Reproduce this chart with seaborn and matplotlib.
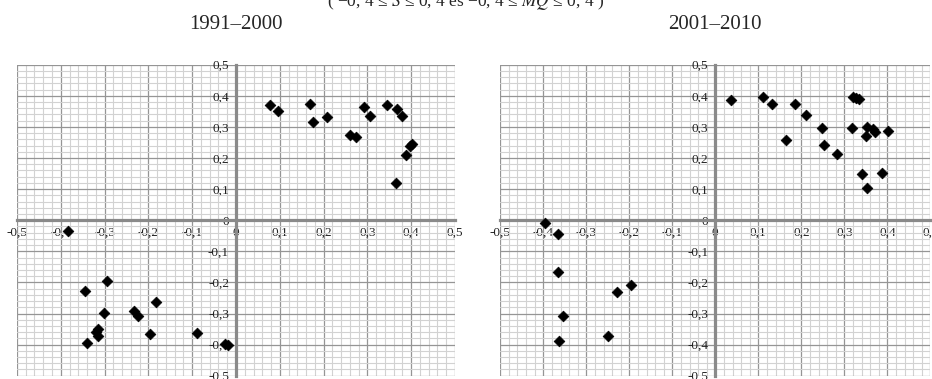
import matplotlib
matplotlib.use("Agg")
import matplotlib.pyplot as plt
import matplotlib.ticker as mticker
import seaborn as sns
import pandas as pd
import numpy as np

# 1991-2000 points (S on x, MQ on y)
x_9100 = [0.078, 0.095, 0.168, 0.175, 0.207, 0.261, 0.275, 0.292, 0.305, 0.344,
          0.368, 0.378, 0.366, 0.387, 0.398, 0.402,
          -0.383, -0.294, -0.344, -0.183, -0.301, -0.232, -0.224, -0.316, -0.320,
          -0.316, -0.341, -0.197, -0.090, -0.024, -0.018]
y_9100 = [0.370, 0.352, 0.373, 0.316, 0.332, 0.273, 0.267, 0.365, 0.335, 0.372,
          0.356, 0.334, 0.119, 0.209, 0.239, 0.246,
          -0.035, -0.195, -0.229, -0.264, -0.299, -0.292, -0.308, -0.349, -0.360,
          -0.373, -0.395, -0.365, -0.364, -0.399, -0.400]

# 2001-2010 points
x_0110 = [0.037, 0.110, 0.132, 0.165, 0.185, 0.212, 0.249, 0.253, 0.282, 0.319,
          0.321, 0.333, 0.327, 0.342, 0.352, 0.353, 0.350, 0.367, 0.372, 0.388,
          0.401,
          -0.396, -0.365, -0.365, -0.229, -0.196, -0.355, -0.250, -0.363]
y_0110 = [0.386, 0.395, 0.374, 0.259, 0.375, 0.339, 0.298, 0.243, 0.213, 0.296,
          0.397, 0.390, 0.393, 0.149, 0.102, 0.300, 0.270, 0.294, 0.283, 0.152,
          0.288,
          -0.008, -0.043, -0.165, -0.230, -0.207, -0.308, -0.371, -0.388]

periods = ["1991–2000", "2001–2010"]
tick_vals = np.round(np.arange(-0.5, 0.51, 0.1), 1)

sns.set_style("white")
plt.rcParams['font.family'] = ['Liberation Serif', 'DejaVu Serif']
plt.rcParams['mathtext.fontset'] = 'stix'


def comma_fmt(v, pos):
    if abs(v) < 1e-9:
        return "0"
    return f"{v:.1f}".replace(".", ",")


fig = plt.figure(figsize=(9.32, 3.79), dpi=100)
ax_l = fig.add_axes([0.0182, 0.0087, 0.4700, 0.8206])
ax_r = fig.add_axes([0.5368, 0.0087, 0.4614, 0.8206])

for ax, xs, ys, name in zip([ax_l, ax_r], [x_9100, x_0110], [y_9100, y_0110], periods):
    df = pd.DataFrame({"S": xs, "MQ": ys})
    sns.scatterplot(data=df, x="S", y="MQ", marker="D", color="black",
                    s=30, edgecolor="black", linewidth=0.5, ax=ax, zorder=5)
    ax.set_xlim(-0.5, 0.5)
    ax.set_ylim(-0.5, 0.5)
    ax.set_xlabel("")
    ax.set_ylabel("")

    ax.xaxis.set_major_locator(mticker.FixedLocator(tick_vals))
    ax.yaxis.set_major_locator(mticker.FixedLocator(tick_vals))
    ax.xaxis.set_minor_locator(mticker.MultipleLocator(0.02))
    ax.yaxis.set_minor_locator(mticker.MultipleLocator(0.02))
    ax.xaxis.set_major_formatter(mticker.FuncFormatter(comma_fmt))
    ax.yaxis.set_major_formatter(mticker.FuncFormatter(comma_fmt))

    ax.grid(which='minor', color='#d2d2d2', linewidth=0.8)
    ax.grid(which='major', color='#959595', linewidth=0.9)
    ax.set_axisbelow(True)

    for side in ['top', 'right']:
        ax.spines[side].set_visible(False)
    for side in ['left', 'bottom']:
        ax.spines[side].set_position(('data', 0))
        ax.spines[side].set_color('#8a8a8a')
        ax.spines[side].set_linewidth(2.3)
        ax.spines[side].set_zorder(3)

    ax.tick_params(which='major', direction='out', length=3, width=0.8,
                   color='#8a8a8a', labelsize=9.5, pad=2, labelcolor='#222222')
    ax.tick_params(which='minor', length=0)
    for lab in ax.get_xticklabels() + ax.get_yticklabels():
        lab.set_zorder(6)

    # panel subtitle centred over the y axis
    ax.text(0, 1.128, name, transform=ax.get_xaxis_transform(),
            ha='center', va='center', fontsize=15)

# title line, cut at the top edge as in the source
fig.text(0.5, 0.983,
         "( −0, 4 ≤ $S$ ≤ 0, 4 és −0, 4 ≤ $MQ$ ≤ 0, 4 )",
         ha='center', va='baseline', fontsize=12.5)

fig.savefig("out.png", dpi=100)
